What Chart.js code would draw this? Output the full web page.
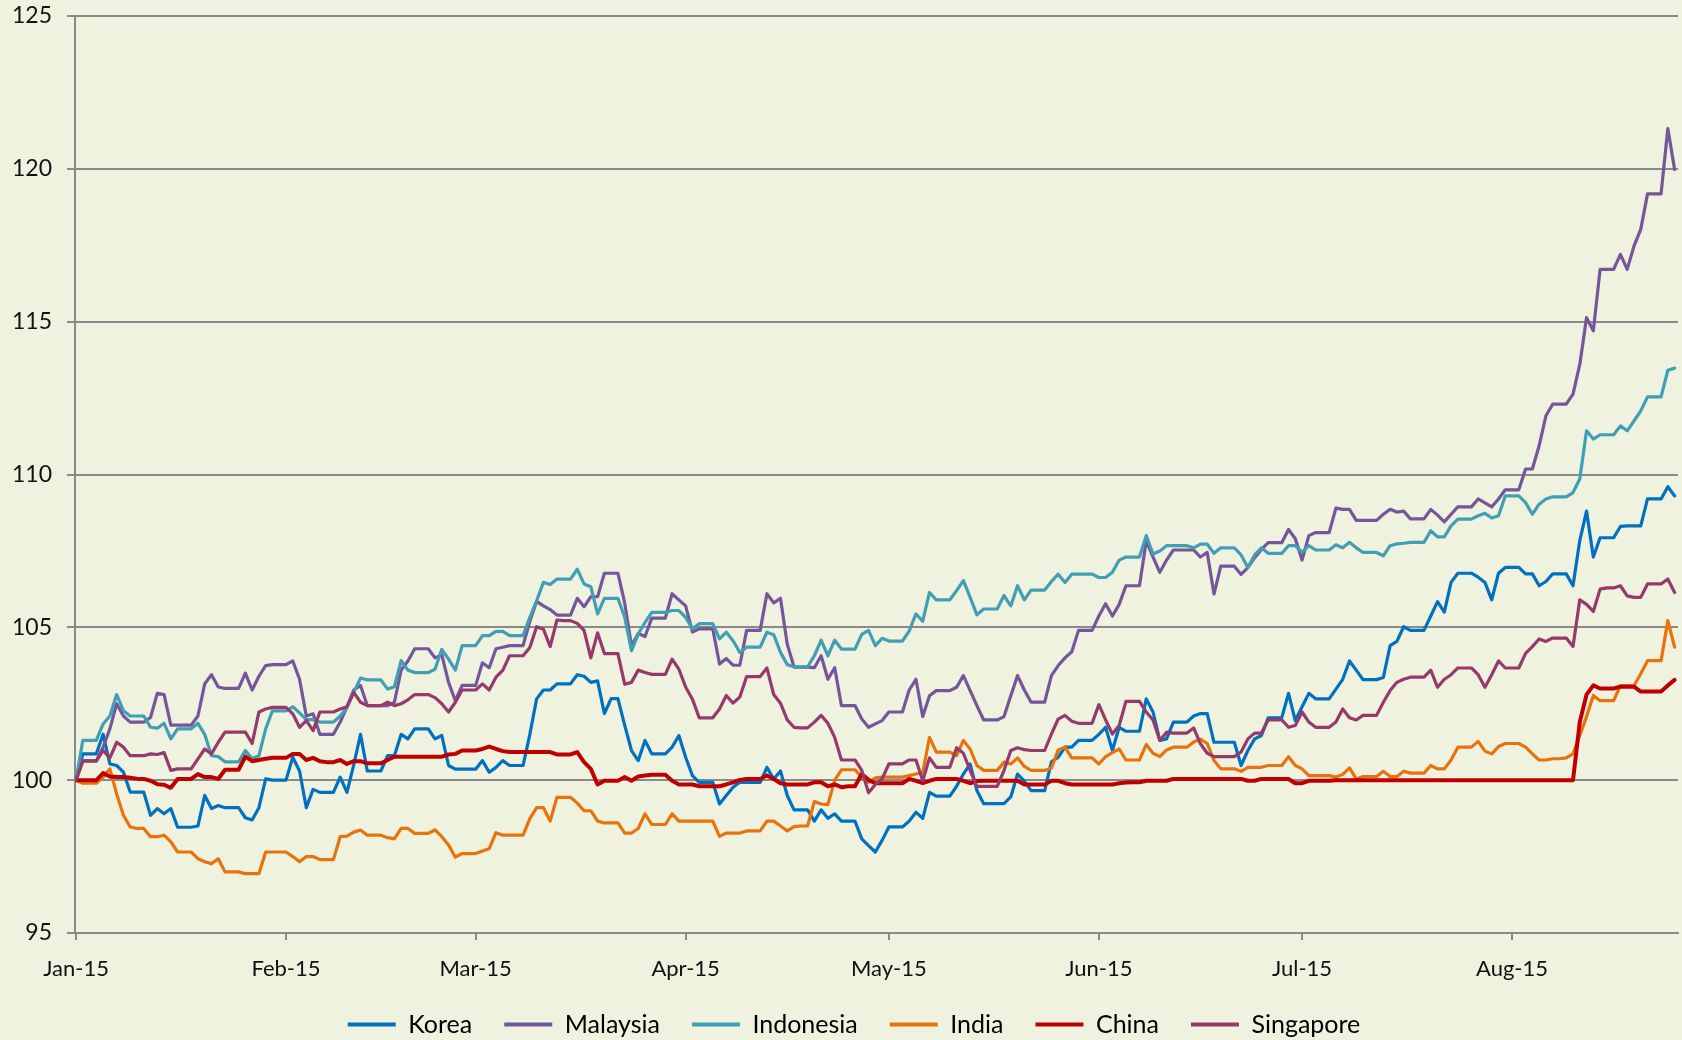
<!DOCTYPE html>
<html><head><meta charset="utf-8">
<script src="https://cdn.jsdelivr.net/npm/chart.js@4.4.1/dist/chart.umd.min.js"></script>
<style>html,body{margin:0;padding:0;background:#EEF2DE;}canvas{display:block;}</style>
</head><body>
<canvas id="c" width="1682" height="1040"></canvas>
<script>
// Daily index values (Jan 1 2015 = day 0 ... Aug 25 2015 = day 236), 100 = Jan 1
const monthTicks = [0, 31, 59, 90, 120, 151, 181, 212];
const monthLabels = ['Jan-15', 'Feb-15', 'Mar-15', 'Apr-15', 'May-15', 'Jun-15', 'Jul-15', 'Aug-15'];
const yTicks = [95, 100, 105, 110, 115, 120, 125];
const seriesNames = ['Korea', 'Malaysia', 'Indonesia', 'India', 'China', 'Singapore'];
const seriesColors = ['#0070C0', '#76569A', '#419FB5', '#E8720C', '#C00000', '#963A6B'];

const korea = [
100,100.86,100.86,100.86,101.5,100.53,100.48,100.26,99.61,99.61,
99.61,98.85,99.07,98.9,99.07,98.46,98.46,98.46,98.5,99.5,
99.07,99.17,99.1,99.1,99.1,98.77,98.7,99.1,100.04,100,
100,100,100.75,100.3,99.1,99.7,99.6,99.6,99.6,100.1,
99.6,100.5,101.5,100.3,100.3,100.3,100.8,100.8,101.5,101.35,
101.68,101.68,101.68,101.35,101.46,100.48,100.36,100.36,100.36,100.36,
100.64,100.26,100.42,100.64,100.48,100.48,100.48,101.5,102.66,102.95,
102.95,103.15,103.15,103.15,103.45,103.4,103.2,103.25,102.18,102.67,
102.67,101.8,100.97,100.64,101.3,100.86,100.86,100.86,101.08,101.46,
100.75,100.15,99.93,99.93,99.93,99.22,99.5,99.77,99.93,99.93,
99.93,99.93,100.42,100.04,100.3,99.5,99.03,99.03,99.03,98.66,
99.03,98.75,98.9,98.66,98.66,98.66,98.08,97.86,97.65,98.03,
98.47,98.47,98.47,98.66,98.95,98.75,99.6,99.48,99.48,99.48,
99.8,100.2,100.53,99.66,99.23,99.23,99.23,99.23,99.45,100.2,
99.97,99.66,99.66,99.66,100.6,100.75,101.08,101.08,101.3,101.3,
101.3,101.5,101.73,100.97,101.73,101.6,101.6,101.6,102.66,102.23,
101.3,101.35,101.9,101.9,101.9,102.1,102.18,102.18,101.24,101.24,
101.24,101.24,100.48,100.97,101.35,101.46,102.04,102.04,102.04,102.84,
101.95,102.4,102.84,102.66,102.66,102.66,102.98,103.3,103.9,103.6,
103.29,103.29,103.29,103.36,104.4,104.54,105.02,104.9,104.9,104.9,
105.37,105.84,105.5,106.47,106.77,106.77,106.77,106.64,106.47,105.9,
106.77,106.96,106.96,106.96,106.75,106.75,106.36,106.5,106.75,106.75,
106.75,106.36,107.84,108.8,107.3,107.93,107.93,107.93,108.3,108.32,
108.32,108.32,109.2,109.2,109.2,109.6,109.3
];

const malaysia = [
100,100.64,100.64,100.64,101.08,101.68,102.5,102.1,101.9,101.9,
101.9,102.05,102.84,102.8,101.8,101.8,101.8,101.8,102.1,103.15,
103.45,103.05,103.0,103.0,103.0,103.5,102.95,103.4,103.75,103.78,
103.78,103.78,103.9,103.3,102.1,102.17,101.5,101.5,101.5,101.9,
102.4,102.95,103.1,102.44,102.44,102.44,102.44,102.55,103.6,103.9,
104.3,104.3,104.3,104.0,104.1,103.2,102.6,103.1,103.1,103.1,
103.84,103.68,104.3,104.35,104.4,104.4,104.4,105.2,105.85,105.7,
105.58,105.4,105.4,105.4,105.95,105.67,106.0,106.0,106.77,106.77,
106.77,105.8,104.4,104.8,104.7,105.3,105.3,105.3,106.1,105.9,
105.7,104.85,104.95,104.95,104.95,103.8,103.98,103.76,103.76,104.9,
104.9,104.9,106.1,105.8,105.95,104.45,103.7,103.7,103.7,103.68,
104.07,103.3,103.68,102.44,102.44,102.44,102.0,101.73,101.84,101.95,
102.23,102.23,102.23,102.95,103.3,102.08,102.76,102.93,102.93,102.93,
103.04,103.42,102.93,102.44,101.97,101.97,101.97,102.08,102.76,103.42,
102.95,102.55,102.55,102.55,103.42,103.75,104.0,104.2,104.9,104.9,
104.9,105.37,105.77,105.37,105.75,106.36,106.36,106.36,107.83,107.3,
106.8,107.2,107.53,107.53,107.53,107.53,107.3,107.45,106.09,107.0,
107.0,107.0,106.73,106.95,107.28,107.55,107.77,107.77,107.77,108.2,
107.9,107.2,108.0,108.1,108.1,108.1,108.9,108.86,108.86,108.5,
108.5,108.5,108.5,108.7,108.86,108.77,108.8,108.55,108.55,108.55,
108.86,108.67,108.45,108.7,108.94,108.94,108.94,109.2,109.07,108.94,
109.2,109.5,109.5,109.5,110.18,110.18,110.94,111.92,112.3,112.3,
112.3,112.63,113.6,115.13,114.7,116.71,116.71,116.71,117.2,116.71,
117.47,118.02,119.18,119.18,119.18,121.32,119.98
];

const indonesia = [
100,101.3,101.3,101.3,101.84,102.1,102.8,102.27,102.1,102.1,
102.1,101.73,101.7,101.86,101.35,101.68,101.68,101.68,101.86,101.5,
100.8,100.77,100.6,100.6,100.6,100.97,100.7,100.8,101.68,102.27,
102.27,102.27,102.4,102.2,101.98,101.98,101.9,101.9,101.9,102.1,
102.38,102.87,103.34,103.28,103.28,103.28,102.98,103.06,103.91,103.6,
103.52,103.52,103.52,103.63,104.28,103.96,103.6,104.4,104.4,104.4,
104.73,104.73,104.87,104.87,104.73,104.73,104.73,105.33,105.87,106.47,
106.4,106.58,106.58,106.58,106.9,106.42,106.33,105.44,105.95,105.95,
105.95,105.33,104.24,104.78,105.16,105.49,105.49,105.49,105.55,105.55,
105.33,104.95,105.12,105.12,105.12,104.62,104.84,104.56,104.18,104.35,
104.35,104.35,104.84,104.76,104.18,103.78,103.71,103.71,103.71,104.07,
104.58,104.07,104.58,104.29,104.29,104.29,104.77,104.9,104.4,104.64,
104.55,104.55,104.55,104.88,105.44,105.2,106.14,105.9,105.9,105.9,
106.2,106.53,105.98,105.41,105.6,105.6,105.6,106.04,105.7,106.36,
105.9,106.22,106.22,106.22,106.5,106.74,106.47,106.74,106.74,106.74,
106.74,106.63,106.63,106.8,107.2,107.3,107.3,107.3,108.0,107.4,
107.5,107.67,107.67,107.67,107.67,107.6,107.72,107.72,107.42,107.6,
107.6,107.6,107.37,106.96,107.37,107.6,107.42,107.42,107.42,107.67,
107.67,107.45,107.67,107.53,107.53,107.53,107.7,107.6,107.78,107.6,
107.45,107.45,107.45,107.34,107.67,107.73,107.75,107.78,107.78,107.78,
108.16,107.96,107.96,108.32,108.54,108.54,108.54,108.65,108.73,108.58,
108.65,109.3,109.3,109.3,109.08,108.7,109.03,109.2,109.27,109.27,
109.27,109.41,109.85,111.43,111.16,111.3,111.3,111.3,111.59,111.43,
111.75,112.08,112.54,112.54,112.54,113.41,113.48
];

const india = [
100,99.9,99.9,99.9,100.1,100.37,99.55,98.85,98.47,98.42,
98.42,98.15,98.15,98.2,97.98,97.65,97.65,97.65,97.43,97.33,
97.27,97.43,97.0,97.0,97.0,96.94,96.94,96.94,97.65,97.65,
97.65,97.65,97.5,97.33,97.5,97.5,97.4,97.4,97.4,98.15,
98.17,98.3,98.37,98.2,98.2,98.2,98.12,98.08,98.42,98.42,
98.26,98.26,98.26,98.37,98.15,97.88,97.48,97.6,97.6,97.6,
97.68,97.76,98.28,98.2,98.2,98.2,98.2,98.74,99.1,99.1,
98.66,99.44,99.44,99.44,99.25,99.0,99.0,98.66,98.6,98.6,
98.6,98.27,98.27,98.42,98.9,98.55,98.55,98.55,98.9,98.66,
98.66,98.66,98.66,98.66,98.66,98.16,98.27,98.27,98.27,98.34,
98.34,98.34,98.66,98.66,98.5,98.34,98.48,98.5,98.5,99.3,
99.22,99.2,100.0,100.34,100.34,100.34,100.1,99.93,100.08,100.1,
100.1,100.1,100.1,100.15,100.2,100.25,101.4,100.92,100.92,100.92,
100.8,101.3,101.02,100.48,100.32,100.32,100.32,100.59,100.53,100.73,
100.45,100.32,100.32,100.32,100.4,100.99,101.08,100.73,100.73,100.73,
100.73,100.53,100.77,100.9,101.02,100.66,100.66,100.66,101.17,100.88,
100.77,100.99,101.08,101.08,101.08,101.25,101.34,101.2,100.64,100.37,
100.37,100.37,100.29,100.42,100.42,100.42,100.48,100.48,100.48,100.77,
100.48,100.37,100.15,100.15,100.15,100.15,100.1,100.19,100.4,100.04,
100.12,100.12,100.12,100.29,100.12,100.12,100.29,100.23,100.23,100.23,
100.48,100.37,100.37,100.66,101.08,101.08,101.08,101.27,100.95,100.86,
101.1,101.2,101.2,101.2,101.08,100.86,100.66,100.66,100.7,100.7,
100.73,100.86,101.46,102.08,102.77,102.6,102.6,102.6,103.09,103.09,
103.09,103.48,103.91,103.91,103.91,105.22,104.35
];

const china = [
100,100,100,100,100.23,100.12,100.1,100.1,100.08,100.05,
100.04,99.98,99.87,99.85,99.75,100.04,100.04,100.04,100.2,100.1,
100.1,100.04,100.34,100.34,100.34,100.77,100.62,100.66,100.7,100.73,
100.73,100.73,100.86,100.86,100.66,100.73,100.62,100.59,100.59,100.66,
100.53,100.62,100.62,100.55,100.55,100.55,100.66,100.77,100.77,100.77,
100.77,100.77,100.77,100.77,100.77,100.84,100.86,100.97,100.97,100.97,
101.02,101.1,101.02,100.95,100.92,100.92,100.92,100.92,100.92,100.92,
100.92,100.84,100.84,100.84,100.92,100.59,100.37,99.86,99.98,99.98,
99.98,100.1,99.98,100.12,100.15,100.18,100.18,100.18,99.98,99.86,
99.86,99.86,99.8,99.8,99.8,99.8,99.86,99.93,100.01,100.04,
100.04,100.04,100.15,100.04,99.9,99.86,99.86,99.86,99.86,99.93,
99.93,99.8,99.86,99.77,99.8,99.8,100.2,100.01,99.9,99.9,
99.9,99.9,99.9,100.04,99.98,99.9,99.98,100.04,100.04,100.04,
100.04,99.98,99.9,99.97,99.98,99.98,99.98,99.98,99.98,99.98,
99.86,99.86,99.86,99.86,99.98,99.98,99.9,99.86,99.86,99.86,
99.86,99.86,99.86,99.86,99.9,99.92,99.93,99.93,99.98,99.98,
99.98,99.98,100.04,100.04,100.04,100.04,100.04,100.04,100.04,100.04,
100.04,100.04,100.04,99.98,99.98,100.04,100.04,100.04,100.04,100.04,
99.9,99.9,99.98,99.98,99.98,99.98,100,100,100,100,
100,100,100,100,100,100,100,100,100,100,
100,100,100,100,100,100,100,100,100,100,
100,100,100,100,100,100,100,100,100,100,
100,100,101.9,102.8,103.1,103.0,103.0,103.0,103.06,103.06,
103.06,102.9,102.9,102.9,102.9,103.1,103.28
];

const singapore = [
100,100.62,100.62,100.62,100.97,100.73,101.24,101.08,100.8,100.8,
100.8,100.86,100.84,100.9,100.32,100.37,100.37,100.37,100.7,101.02,
100.86,101.24,101.57,101.57,101.57,101.57,101.2,102.23,102.33,102.38,
102.38,102.38,102.17,101.73,101.95,101.62,102.23,102.23,102.23,102.33,
102.4,102.87,102.55,102.44,102.44,102.44,102.55,102.44,102.5,102.63,
102.8,102.8,102.8,102.7,102.5,102.23,102.55,102.95,102.95,102.95,
103.15,102.95,103.37,103.59,104.07,104.07,104.07,104.34,105.02,104.94,
104.37,105.24,105.22,105.22,105.13,104.9,104.0,104.82,104.14,104.14,
104.14,103.14,103.2,103.6,103.52,103.46,103.46,103.46,103.96,103.63,
103.05,102.65,102.04,102.04,102.04,102.33,102.77,102.52,102.72,103.39,
103.39,103.39,103.67,102.8,102.52,101.97,101.73,101.71,101.71,101.9,
102.12,101.86,101.4,100.66,100.66,100.66,100.32,99.59,99.86,100.04,
100.53,100.53,100.53,100.66,100.66,99.98,100.73,100.42,100.42,100.42,
101.06,100.88,100.32,99.8,99.8,99.8,99.8,100.32,100.97,101.06,
101.0,100.97,100.97,100.97,101.51,102.0,102.12,101.93,101.86,101.86,
101.86,102.47,101.97,101.51,101.79,102.58,102.58,102.58,102.23,101.97,
101.3,101.57,101.54,101.54,101.54,101.71,101.19,100.88,100.77,100.77,
100.77,100.77,100.92,101.35,101.54,101.54,101.97,101.97,101.97,101.73,
101.79,102.23,101.9,101.73,101.73,101.73,101.9,102.33,102.04,101.97,
102.12,102.12,102.12,102.55,102.93,103.2,103.3,103.37,103.37,103.37,
103.6,103.04,103.3,103.45,103.67,103.67,103.67,103.45,103.04,103.45,
103.9,103.67,103.67,103.67,104.15,104.37,104.62,104.54,104.65,104.65,
104.65,104.37,105.9,105.75,105.52,106.25,106.29,106.29,106.36,106.03,
105.98,105.98,106.42,106.42,106.42,106.58,106.14
];

const seriesValues = [korea, malaysia, indonesia, india, china, singapore];
const lineWidths = [3.2, 3.2, 3.2, 3.2, 4, 3.2];

const datasets = seriesValues.map((vals, i) => ({
  label: seriesNames[i],
  data: vals.map((v, d) => ({ x: d, y: v })),
  borderColor: seriesColors[i],
  backgroundColor: seriesColors[i],
  borderWidth: lineWidths[i],
  pointRadius: 0,
  tension: 0,
  fill: false,
  borderJoinStyle: 'round',
  borderCapStyle: 'round',
  order: seriesValues.length - i
}));

const bgPlugin = {
  id: 'bg',
  beforeDraw(c) {
    const ctx = c.ctx;
    ctx.save();
    ctx.fillStyle = '#EEF2DE';
    ctx.fillRect(0, 0, c.width, c.height);
    ctx.restore();
  }
};

// legend: fixed height, and drawn shifted to sit centred under the plot like the original
const legendPatch = {
  id: 'legendPatch',
  beforeLayout(chart) {
    const lg = chart.legend;
    if (lg && !lg.__patched) {
      const origFit = lg.fit;
      lg.fit = function () { origFit.call(this); this.height = 58; };
      const origDraw = lg.draw;
      lg.draw = function (area) {
        const ctx = this.ctx;
        ctx.save();
        ctx.translate(15, -2);
        origDraw.call(this, area);
        ctx.restore();
      };
      lg.__patched = true;
    }
  }
};

Chart.defaults.font.family = 'Lato, "Noto Sans", sans-serif';
Chart.defaults.color = '#111111';

new Chart(document.getElementById('c'), {
  type: 'line',
  data: { datasets },
  plugins: [bgPlugin, legendPatch],
  options: {
    responsive: false,
    animation: false,
    layout: { padding: { top: 0, right: 4, bottom: 0, left: 0 } },
    plugins: {
      tooltip: { enabled: false },
      legend: {
        position: 'bottom',
        labels: {
          boxWidth: 48,
          boxHeight: 4,
          padding: 32,
          font: { size: 25 },
          color: '#111111',
          generateLabels: (chart) => chart.data.datasets.map((ds, i) => ({
            text: ds.label,
            fillStyle: ds.borderColor,
            strokeStyle: ds.borderColor,
            lineWidth: 0,
            hidden: false,
            datasetIndex: i
          }))
        }
      }
    },
    scales: {
      x: {
        type: 'linear',
        min: -0.15,
        max: 236.5,
        afterBuildTicks: (s) => { s.ticks = monthTicks.map(v => ({ value: v })); },
        afterFit: (s) => { s.height = 49; },
        ticks: {
          autoSkip: false,
          maxRotation: 0,
          padding: 16,
          font: { size: 22 },
          color: '#111111',
          callback: (v) => { const k = monthTicks.indexOf(v); return k >= 0 ? monthLabels[k] : ''; }
        },
        grid: { drawOnChartArea: false, drawTicks: true, tickLength: 7, color: '#8a8a8a', lineWidth: 2 },
        border: { display: true, color: '#8a8a8a', width: 2 }
      },
      y: {
        min: 95,
        max: 125,
        afterBuildTicks: (s) => { s.ticks = yTicks.map(v => ({ value: v })); },
        afterFit: (s) => { s.width = 75; s.paddingTop = 16; s.paddingBottom = 0; },
        ticks: { padding: 15, font: { size: 23 }, color: '#111111' },
        grid: { color: '#8a8a8a', lineWidth: 2, drawTicks: true, tickLength: 8 },
        border: { display: true, color: '#8a8a8a', width: 2 }
      }
    }
  }
});
</script>
</body></html>
